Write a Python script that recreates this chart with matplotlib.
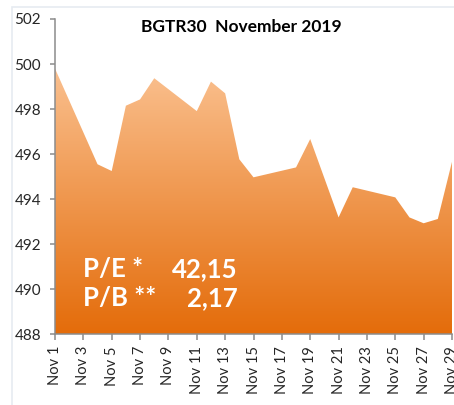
import numpy as np
import matplotlib
matplotlib.use("Agg")
import matplotlib.pyplot as plt
from matplotlib.colors import LinearSegmentedColormap
from matplotlib.patches import Rectangle

# BGTR30 closing values, trading days of November 2019
days = [1, 4, 5, 6, 7, 8, 11, 12, 13, 14, 15, 18, 19, 20, 21, 22, 25, 26, 27, 28, 29]
values = [499.8, 495.55, 495.25, 498.15, 498.43, 499.37, 497.91, 499.22, 498.70, 495.77,
          494.97, 495.41, 496.67, 494.93, 493.19, 494.53, 494.08, 493.19, 492.93, 493.12, 495.66]
tick_days = list(range(1, 30, 2))
tick_labels = ["Nov %d" % d for d in tick_days]
y_ticks = list(range(488, 503, 2))

title = "BGTR30  November 2019"
pe_label, pe_value = "P/E *", "42,15"
pb_label, pb_value = "P/B **", "2,17"

plt.rcParams['font.family'] = ['Lato', 'DejaVu Sans']

fig = plt.figure(figsize=(4.54, 4.05), dpi=100)
fig.patch.set_facecolor("white")

# light chart-area frame (only top/left visible)
W, H = 454, 405
fig.patches.append(Rectangle((12 / W, -0.05), 1.0, 1 - 7 / H + 0.05, transform=fig.transFigure,
                             fill=False, edgecolor="#E6EBF1", linewidth=1.2))

ax = fig.add_axes([55 / W, 1 - 334.3 / H, 397 / W, (334.3 - 19) / H])
ax.set_xlim(1, 29)
ax.set_ylim(488, 502)

# area with vertical gradient, clipped to the filled polygon
poly = ax.fill_between(days, values, 488, facecolor="none", edgecolor="none")
cmap = LinearSegmentedColormap.from_list("org", ["#E46C0A", "#FAC08F"])
grad = np.linspace(0, 1, 256).reshape(-1, 1)
img = ax.imshow(grad, cmap=cmap, origin="lower", aspect="auto",
                extent=[1, 29, 488, max(values)], zorder=1)
path = poly.get_paths()[0]
img.set_clip_path(path, transform=ax.transData)
ax.set_xlim(1, 29)
ax.set_ylim(488, 502)

for s in ["top", "right"]:
    ax.spines[s].set_visible(False)
for s in ["left", "bottom"]:
    ax.spines[s].set_color("#8C8C8C")
    ax.spines[s].set_linewidth(1.1)
    ax.spines[s].set_zorder(3)

ax.set_yticks(y_ticks)
ax.set_xticks(tick_days)
ax.set_xticklabels(tick_labels, rotation=90)
ax.tick_params(axis="y", direction="out", length=3.5, width=1.1, color="#8C8C8C",
               pad=6.5, labelsize=11, labelcolor="#262626")
ax.tick_params(axis="x", direction="out", length=4, width=1.1, color="#8C8C8C",
               pad=4.5, labelsize=10.5, labelcolor="#262626")
ax.set_facecolor("none")

fig.text(241 / W, 1 - 27 / H, title, ha="center", va="center", fontsize=12.5,
         fontweight="bold", color="black")

# valuation ratios in white
fs = 18.5
ax.text(0.0705, 0.182, pe_label, transform=ax.transAxes, color="white", fontsize=fs,
        fontweight="bold", ha="left", va="baseline", zorder=4)
ax.text(0.46, 0.182, pe_value, transform=ax.transAxes, color="white", fontsize=fs,
        fontweight="bold", ha="right", va="baseline", zorder=4)
ax.text(0.0705, 0.09, pb_label, transform=ax.transAxes, color="white", fontsize=fs,
        fontweight="bold", ha="left", va="baseline", zorder=4)
ax.text(0.46, 0.09, pb_value, transform=ax.transAxes, color="white", fontsize=fs,
        fontweight="bold", ha="right", va="baseline", zorder=4)

fig.savefig("out.png", dpi=100)
